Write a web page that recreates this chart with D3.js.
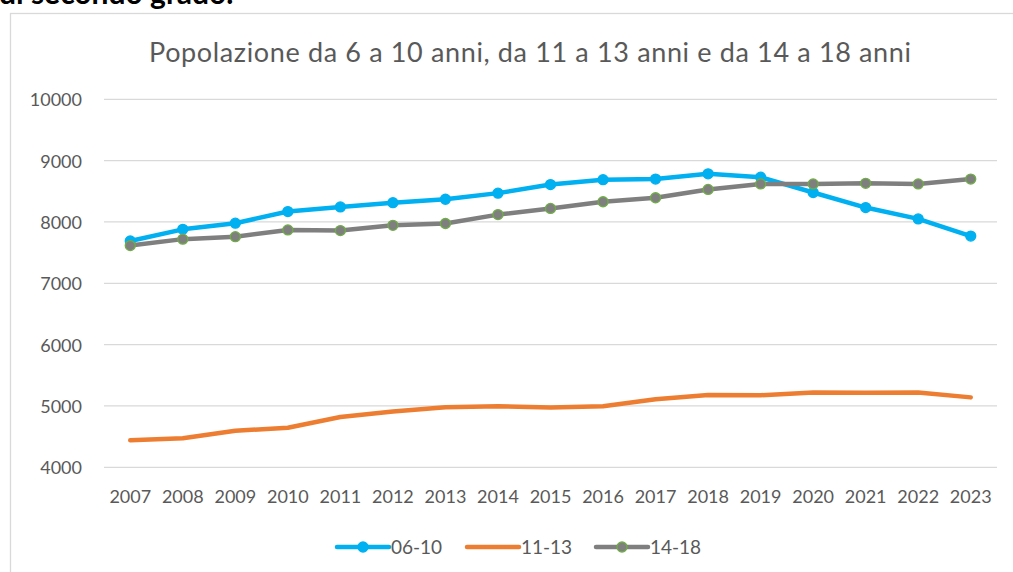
<!DOCTYPE html>
<html>
<head>
<meta charset="utf-8">
<script src="https://cdn.jsdelivr.net/npm/d3@7"></script>
<style>
body { margin: 0; background: #fff; }
svg { display: block; }
.tick text { font-family: Lato, "Open Sans", sans-serif; font-size: 18px; fill: #595959; }
</style>
</head>
<body>
<div id="body"></div>
<script>
// data
let years = ['2007','2008','2009','2010','2011','2012','2013','2014','2015','2016','2017','2018','2019','2020','2021','2022','2023']
let pop0610 = [7690, 7880, 7980, 8170, 8245, 8315, 8370, 8470, 8610, 8690, 8700, 8785, 8730, 8480, 8235, 8050, 7770]
let pop1113 = [4440, 4475, 4595, 4645, 4820, 4910, 4980, 4995, 4975, 4995, 5110, 5180, 5175, 5220, 5215, 5220, 5140]
let pop1418 = [7615, 7720, 7760, 7870, 7860, 7945, 7975, 8120, 8220, 8330, 8395, 8530, 8620, 8620, 8630, 8620, 8700]
let yTicks = [4000, 5000, 6000, 7000, 8000, 9000, 10000]

let series = [
  { name: '06-10', values: pop0610, color: '#00B0F0', marker: true, stroke: '#00B0F0' },
  { name: '11-13', values: pop1113, color: '#ED7D31', marker: false },
  { name: '14-18', values: pop1418, color: '#7F7F7F', marker: true, stroke: '#70AD47' }
]

let size = { width: 1013, height: 572 }
let plot = { left: 104, right: 997, top: 99.3, bottom: 467.3 }

let svg = d3.select('#body')
  .append('svg')
  .attr('width', size.width)
  .attr('height', size.height)

// text of the page above the chart, cut off at the top like in the picture
svg.append('text')
  .attr('x', -1)
  .attr('y', 4)
  .style('font-family', 'Lato, sans-serif')
  .style('font-weight', 'bold')
  .style('font-size', '30px')
  .style('fill', '#000')
  .text('di secondo grado.')

// chart frame
svg.append('rect')
  .attr('x', 10.5)
  .attr('y', 13.5)
  .attr('width', 1100)
  .attr('height', 700)
  .attr('fill', '#fff')
  .attr('stroke', '#d9d9d9')
  .attr('stroke-width', 1.3)

svg.append('text')
  .attr('x', 530)
  .attr('y', 62)
  .attr('text-anchor', 'middle')
  .attr('textLength', 762)
  .attr('lengthAdjust', 'spacing')
  .style('font-family', 'Lato, sans-serif')
  .style('font-weight', 400)
  .style('font-size', '27px')
  .style('fill', '#595959')
  .text('Popolazione da 6 a 10 anni, da 11 a 13 anni e da 14 a 18 anni')

let xScale = d3.scaleBand()
  .domain(years)
  .range([plot.left, plot.right])
let yScale = d3.scaleLinear()
  .domain([4000, 10000])
  .range([plot.bottom, plot.top])

// gridlines
svg.append('g')
  .selectAll('line')
  .data(yTicks)
  .join('line')
  .attr('x1', plot.left)
  .attr('x2', plot.right)
  .attr('y1', d => yScale(d))
  .attr('y2', d => yScale(d))
  .attr('stroke', '#d9d9d9')
  .attr('stroke-width', 1.3)

let yAxis = d3.axisLeft(yScale).tickValues(yTicks).tickSize(0).tickPadding(22).tickFormat(d3.format('d'))
let gY = svg.append('g')
  .attr('transform', `translate(${plot.left},0)`)
  .call(yAxis)
gY.select('.domain').remove()
gY.selectAll('.tick text').attr('dy', '0.36em')

let xAxis = d3.axisBottom(xScale).tickSize(0).tickPadding(23)
let gX = svg.append('g')
  .attr('transform', `translate(0,${plot.bottom})`)
  .call(xAxis)
gX.select('.domain').remove()

let line = d3.line()
  .x((d, i) => xScale(years[i]) + xScale.bandwidth() / 2)
  .y(d => yScale(d))

series.forEach(s => {
  svg.append('path')
    .datum(s.values)
    .attr('d', line)
    .attr('fill', 'none')
    .attr('stroke', s.color)
    .attr('stroke-width', 4.5)
    .attr('stroke-linejoin', 'round')
    .attr('stroke-linecap', 'round')
  if (s.marker) {
    svg.append('g')
      .selectAll('circle')
      .data(s.values)
      .join('circle')
      .attr('cx', (d, i) => xScale(years[i]) + xScale.bandwidth() / 2)
      .attr('cy', d => yScale(d))
      .attr('r', 5)
      .attr('fill', s.color)
      .attr('stroke', s.stroke)
      .attr('stroke-width', 1.3)
  }
})

// legend
let legX = [337, 467, 596]
let leg = svg.append('g')
  .selectAll('g')
  .data(series)
  .join('g')
  .attr('transform', (d, i) => `translate(${legX[i]},547)`)
leg.append('line')
  .attr('x1', 0)
  .attr('x2', 52)
  .attr('stroke', d => d.color)
  .attr('stroke-width', 4.5)
  .attr('stroke-linecap', 'round')
leg.filter(d => d.marker)
  .append('circle')
  .attr('cx', 26)
  .attr('r', 5)
  .attr('fill', d => d.color)
  .attr('stroke', d => d.stroke)
  .attr('stroke-width', 1.3)
leg.append('text')
  .attr('x', 54)
  .attr('dy', '0.36em')
  .style('font-family', 'Lato, sans-serif')
  .style('font-size', '19px')
  .style('fill', '#595959')
  .text(d => d.name)
</script>
</body>
</html>
